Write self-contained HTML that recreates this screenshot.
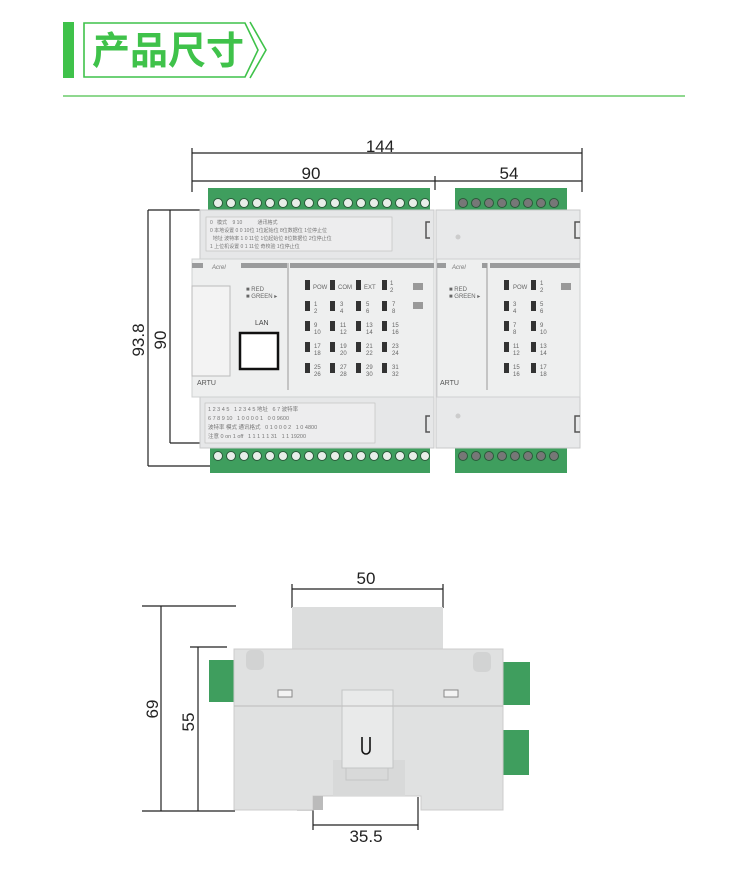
<!DOCTYPE html>
<html><head><meta charset="utf-8"><style>
html,body{margin:0;padding:0;background:#fff;width:750px;height:885px;overflow:hidden}
svg{display:block}
text{font-family:"Liberation Sans","Noto Sans CJK SC",sans-serif}
</style></head><body>
<svg width="750" height="885" viewBox="0 0 750 885" xmlns="http://www.w3.org/2000/svg">
<!-- header -->
<rect x="63" y="22" width="11" height="56" fill="#3fc24a"/>
<path d="M84 23 H245 L258 50 L245 77 H84 Z" fill="none" stroke="#3fc24a" stroke-width="1.6"/>
<path d="M250 22 L266 50 L250 78" fill="none" stroke="#3fc24a" stroke-width="1.6"/>
<text x="92" y="64" font-size="38" font-weight="bold" fill="#3fc24a" font-family="Noto Sans CJK SC,sans-serif">产品尺寸</text>
<line x1="63" y1="96" x2="685" y2="96" stroke="#4cc04c" stroke-width="1.2"/>

<!-- top dims -->
<g stroke="#222" stroke-width="1.2" fill="none">
<line x1="192" y1="153" x2="582" y2="153"/>
<line x1="192" y1="181" x2="582" y2="181"/>
<line x1="192" y1="148" x2="192" y2="192"/>
<line x1="582" y1="148" x2="582" y2="192"/>
<line x1="435" y1="176" x2="435" y2="190"/>
<line x1="148" y1="210" x2="148" y2="466"/>
<line x1="170" y1="210" x2="170" y2="443"/>
<line x1="148" y1="210" x2="200" y2="210"/>
<line x1="170" y1="443" x2="210" y2="443"/>
<line x1="148" y1="466" x2="210" y2="466"/>
</g>
<text x="380" y="152" font-size="17" text-anchor="middle" fill="#222">144</text>
<text x="311" y="179" font-size="17" text-anchor="middle" fill="#222">90</text>
<text x="509" y="179" font-size="17" text-anchor="middle" fill="#222">54</text>
<text transform="translate(144,340) rotate(-90)" font-size="17" text-anchor="middle" fill="#222">93.8</text>
<text transform="translate(166,340) rotate(-90)" font-size="17" text-anchor="middle" fill="#222">90</text>

<!-- terminals -->
<g id="term">
<rect x="208" y="188" width="222" height="22" fill="#3f9e5e"/>
<rect x="455" y="188" width="112" height="22" fill="#3f9e5e"/>
<rect x="210" y="447" width="220" height="26" fill="#3f9e5e"/>
<rect x="455" y="447" width="112" height="26" fill="#3f9e5e"/>
</g>
<g fill="#e8eee9" stroke="#2a5a3a" stroke-width="1">
<circle cx="218" cy="203" r="4.5"/><circle cx="231" cy="203" r="4.5"/><circle cx="244" cy="203" r="4.5"/><circle cx="257" cy="203" r="4.5"/><circle cx="270" cy="203" r="4.5"/><circle cx="283" cy="203" r="4.5"/><circle cx="296" cy="203" r="4.5"/><circle cx="309" cy="203" r="4.5"/><circle cx="322" cy="203" r="4.5"/><circle cx="335" cy="203" r="4.5"/><circle cx="348" cy="203" r="4.5"/><circle cx="361" cy="203" r="4.5"/><circle cx="374" cy="203" r="4.5"/><circle cx="387" cy="203" r="4.5"/><circle cx="400" cy="203" r="4.5"/><circle cx="413" cy="203" r="4.5"/><circle cx="425" cy="203" r="4.5"/>
<circle cx="463" cy="203" r="4.5" fill="#777"/><circle cx="476" cy="203" r="4.5" fill="#777"/><circle cx="489" cy="203" r="4.5" fill="#777"/><circle cx="502" cy="203" r="4.5" fill="#777"/><circle cx="515" cy="203" r="4.5" fill="#777"/><circle cx="528" cy="203" r="4.5" fill="#777"/><circle cx="541" cy="203" r="4.5" fill="#777"/><circle cx="554" cy="203" r="4.5" fill="#777"/>
<circle cx="218" cy="456" r="4.5"/><circle cx="231" cy="456" r="4.5"/><circle cx="244" cy="456" r="4.5"/><circle cx="257" cy="456" r="4.5"/><circle cx="270" cy="456" r="4.5"/><circle cx="283" cy="456" r="4.5"/><circle cx="296" cy="456" r="4.5"/><circle cx="309" cy="456" r="4.5"/><circle cx="322" cy="456" r="4.5"/><circle cx="335" cy="456" r="4.5"/><circle cx="348" cy="456" r="4.5"/><circle cx="361" cy="456" r="4.5"/><circle cx="374" cy="456" r="4.5"/><circle cx="387" cy="456" r="4.5"/><circle cx="400" cy="456" r="4.5"/><circle cx="413" cy="456" r="4.5"/><circle cx="425" cy="456" r="4.5"/>
<circle cx="463" cy="456" r="4.5" fill="#777"/><circle cx="476" cy="456" r="4.5" fill="#777"/><circle cx="489" cy="456" r="4.5" fill="#777"/><circle cx="502" cy="456" r="4.5" fill="#777"/><circle cx="515" cy="456" r="4.5" fill="#777"/><circle cx="528" cy="456" r="4.5" fill="#777"/><circle cx="541" cy="456" r="4.5" fill="#777"/><circle cx="554" cy="456" r="4.5" fill="#777"/>
</g>

<!-- module bodies -->
<rect x="200" y="210" width="234" height="238" fill="#e6e7e8" stroke="#c8c9ca"/>
<rect x="436" y="210" width="144" height="238" fill="#e8e9ea" stroke="#c8c9ca"/>
<rect x="192" y="259" width="242" height="138" fill="#eeefef" stroke="#cfd0d1"/>
<rect x="437" y="259" width="143" height="138" fill="#eeefef" stroke="#cfd0d1"/>
<!-- top label table -->
<rect x="206" y="217" width="186" height="34" fill="#ededee" stroke="#bbb" stroke-width="0.6"/>
<g font-size="5" fill="#777"><text x="210" y="224">0 &#160; 模式 &#160;&#160; 9 10 &#160;&#160;&#160;&#160;&#160;&#160;&#160;&#160;&#160; 通讯格式</text>
<text x="210" y="232">0 本地设置 0 0 10位 1位起始位 8位数据位 1位停止位</text>
<text x="210" y="240">&#160; 地址 波特率 1 0 11位 1位起始位 8位数据位 2位停止位</text>
<text x="210" y="248">1 上位机设置 0 1 11位 奇校验 1位停止位</text></g>
<!-- clips -->
<path d="M430 222 h-4 v16 h4" fill="none" stroke="#555" stroke-width="1.5"/>
<path d="M580 222 h-5 v16 h5" fill="none" stroke="#555" stroke-width="1.5"/>
<path d="M430 416 h-4 v16 h4" fill="none" stroke="#555" stroke-width="1.5"/>
<path d="M580 416 h-5 v16 h5" fill="none" stroke="#555" stroke-width="1.5"/>
<circle cx="458" cy="237" r="2.5" fill="#ccc"/><circle cx="458" cy="416" r="2.5" fill="#ccc"/>
<!-- face details left -->
<rect x="192" y="263" width="95" height="5" fill="#9a9b9c"/>
<rect x="203" y="262" width="38" height="8" fill="#eeefef"/>
<text x="212" y="269" font-size="6" fill="#777" font-style="italic">Acrel</text>
<rect x="290" y="263" width="144" height="5" fill="#9a9b9c"/>
<line x1="288" y1="263" x2="288" y2="390" stroke="#999"/>
<rect x="192" y="286" width="38" height="90" fill="#f3f3f3" stroke="#bbb"/>
<text x="246" y="291" font-size="6" fill="#666">■ RED</text>
<text x="246" y="298" font-size="6" fill="#666">■ GREEN ▸</text>
<text x="255" y="325" font-size="7" fill="#444">LAN</text>
<rect x="240" y="333" width="38" height="36" fill="#fff" stroke="#111" stroke-width="2.5"/>
<text x="197" y="385" font-size="7" fill="#555">ARTU</text>
<g fill="#333">
<rect x="305" y="280" width="5" height="10"/><rect x="330" y="280" width="5" height="10"/><rect x="356" y="280" width="5" height="10"/><rect x="382" y="280" width="5" height="10"/>
<rect x="305" y="301" width="5" height="10"/><rect x="330" y="301" width="5" height="10"/><rect x="356" y="301" width="5" height="10"/><rect x="382" y="301" width="5" height="10"/>
<rect x="305" y="321" width="5" height="10"/><rect x="330" y="321" width="5" height="10"/><rect x="356" y="321" width="5" height="10"/><rect x="382" y="321" width="5" height="10"/>
<rect x="305" y="342" width="5" height="10"/><rect x="330" y="342" width="5" height="10"/><rect x="356" y="342" width="5" height="10"/><rect x="382" y="342" width="5" height="10"/>
<rect x="305" y="363" width="5" height="10"/><rect x="330" y="363" width="5" height="10"/><rect x="356" y="363" width="5" height="10"/><rect x="382" y="363" width="5" height="10"/>
<rect x="504" y="280" width="5" height="10"/><rect x="531" y="280" width="5" height="10"/>
<rect x="504" y="301" width="5" height="10"/><rect x="531" y="301" width="5" height="10"/>
<rect x="504" y="321" width="5" height="10"/><rect x="531" y="321" width="5" height="10"/>
<rect x="504" y="342" width="5" height="10"/><rect x="531" y="342" width="5" height="10"/>
<rect x="504" y="363" width="5" height="10"/><rect x="531" y="363" width="5" height="10"/>
</g>
<g font-size="6" fill="#666">
<text x="313" y="289">POW</text><text x="338" y="289">COM</text><text x="364" y="289">EXT</text><text x="390" y="285">1</text><text x="390" y="292">2</text>
<text x="314" y="306">1</text><text x="314" y="313">2</text><text x="340" y="306">3</text><text x="340" y="313">4</text><text x="366" y="306">5</text><text x="366" y="313">6</text><text x="392" y="306">7</text><text x="392" y="313">8</text>
<text x="314" y="327">9</text><text x="314" y="334">10</text><text x="340" y="327">11</text><text x="340" y="334">12</text><text x="366" y="327">13</text><text x="366" y="334">14</text><text x="392" y="327">15</text><text x="392" y="334">16</text>
<text x="314" y="348">17</text><text x="314" y="355">18</text><text x="340" y="348">19</text><text x="340" y="355">20</text><text x="366" y="348">21</text><text x="366" y="355">22</text><text x="392" y="348">23</text><text x="392" y="355">24</text>
<text x="314" y="369">25</text><text x="314" y="376">26</text><text x="340" y="369">27</text><text x="340" y="376">28</text><text x="366" y="369">29</text><text x="366" y="376">30</text><text x="392" y="369">31</text><text x="392" y="376">32</text>
<text x="513" y="289">POW</text><text x="540" y="285">1</text><text x="540" y="292">2</text>
<text x="513" y="306">3</text><text x="513" y="313">4</text><text x="540" y="306">5</text><text x="540" y="313">6</text>
<text x="513" y="327">7</text><text x="513" y="334">8</text><text x="540" y="327">9</text><text x="540" y="334">10</text>
<text x="513" y="348">11</text><text x="513" y="355">12</text><text x="540" y="348">13</text><text x="540" y="355">14</text>
<text x="513" y="369">15</text><text x="513" y="376">16</text><text x="540" y="369">17</text><text x="540" y="376">18</text>
</g>
<rect x="413" y="283" width="10" height="7" fill="#999"/><rect x="413" y="302" width="10" height="7" fill="#999"/>
<rect x="561" y="283" width="10" height="7" fill="#999"/>
<!-- right face -->
<rect x="437" y="263" width="50" height="5" fill="#9a9b9c"/>
<rect x="446" y="262" width="36" height="8" fill="#eeefef"/>
<text x="452" y="269" font-size="6" fill="#777" font-style="italic">Acrel</text>
<rect x="490" y="263" width="90" height="5" fill="#9a9b9c"/>
<line x1="487" y1="263" x2="487" y2="390" stroke="#999"/>
<text x="449" y="291" font-size="6" fill="#666">■ RED</text>
<text x="449" y="298" font-size="6" fill="#666">■ GREEN ▸</text>
<text x="440" y="385" font-size="7" fill="#555">ARTU</text>
<!-- bottom label table -->
<rect x="205" y="403" width="170" height="40" fill="#ededee" stroke="#bbb" stroke-width="0.6"/>
<g font-size="5.5" fill="#777"><text x="208" y="411">1 2 3 4 5 &#160; 1 2 3 4 5 地址 &#160; 6 7 波特率</text>
<text x="208" y="420">6 7 8 9 10 &#160; 1 0 0 0 0 1 &#160; 0 0 9600</text>
<text x="208" y="429">波特率 模式 通讯格式 &#160; 0 1 0 0 0 2 &#160; 1 0 4800</text>
<text x="208" y="438">注意 0 on 1 off &#160; 1 1 1 1 1 31 &#160; 1 1 19200</text></g>

<!-- side view dims -->
<g stroke="#222" stroke-width="1.2" fill="none">
<line x1="292" y1="589" x2="443" y2="589"/>
<line x1="292" y1="584" x2="292" y2="608"/>
<line x1="443" y1="584" x2="443" y2="608"/>
<line x1="161" y1="606" x2="161" y2="811"/>
<line x1="142" y1="606" x2="236" y2="606"/>
<line x1="142" y1="811" x2="235" y2="811"/>
<line x1="198" y1="647" x2="198" y2="811"/>
<line x1="190" y1="647" x2="227" y2="647"/>
<line x1="313" y1="825" x2="418" y2="825"/>
<line x1="313" y1="797" x2="313" y2="830"/>
<line x1="418" y1="797" x2="418" y2="830"/>
<line x1="297" y1="796" x2="313" y2="796"/>
<line x1="297" y1="810" x2="313" y2="810"/>
</g>
<text x="366" y="584" font-size="17" text-anchor="middle" fill="#222">50</text>
<text transform="translate(158,709) rotate(-90)" font-size="17" text-anchor="middle" fill="#222">69</text>
<text transform="translate(194,722) rotate(-90)" font-size="17" text-anchor="middle" fill="#222">55</text>
<text transform="translate(299,803) rotate(-90)" font-size="15" text-anchor="middle" fill="#222">5</text>
<text x="366" y="842" font-size="17" text-anchor="middle" fill="#222">35.5</text>
<!-- side view body -->
<rect x="209" y="660" width="25" height="42" fill="#3f9e5e"/>
<rect x="503" y="662" width="27" height="43" fill="#3f9e5e"/>
<rect x="503" y="730" width="26" height="45" fill="#3f9e5e"/>
<rect x="292" y="607" width="151" height="45" fill="#dcdddd"/>
<path d="M234 649 H503 V810 H421 V796 H313 V810 H234 Z" fill="#e0e1e1" stroke="#ccc"/>
<line x1="234" y1="706" x2="503" y2="706" stroke="#bbb"/>
<rect x="246" y="650" width="18" height="20" rx="5" fill="#d2d3d3"/>
<rect x="473" y="652" width="18" height="20" rx="5" fill="#d2d3d3"/>
<rect x="278" y="690" width="14" height="7" fill="#f3f3f3" stroke="#888"/>
<rect x="444" y="690" width="14" height="7" fill="#f3f3f3" stroke="#888"/>
<rect x="333" y="760" width="72" height="36" fill="#d8d9d9"/>
<rect x="342" y="690" width="51" height="78" fill="#e9eaea" stroke="#c4c5c5"/>
<line x1="342" y1="706" x2="393" y2="706" stroke="#bbb"/>
<rect x="346" y="768" width="42" height="12" fill="#d8d9d9" stroke="#c4c5c5"/>
<path d="M362 737 V750 a4 4 0 0 0 8 0 V737" fill="none" stroke="#111" stroke-width="1.6"/>
<rect x="313" y="796" width="10" height="14" fill="#bbb"/>
</svg>
</body></html>
